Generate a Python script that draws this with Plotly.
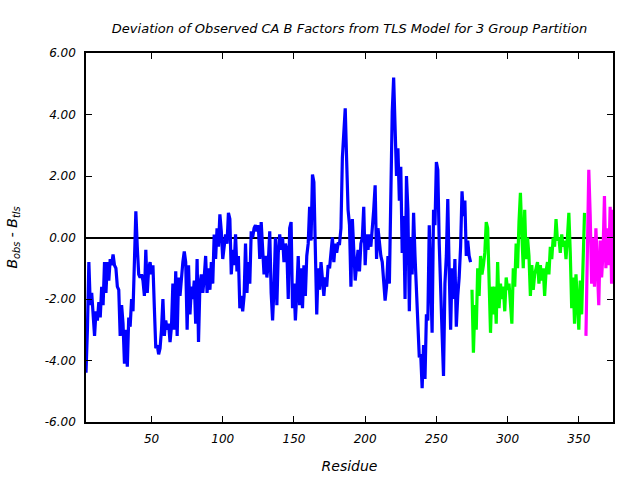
import plotly.graph_objects as go

blue_start = 4
blue_vals = [
    -4.4, -3.0, -0.8, -2.2, -1.8, -2.4, -3.2, -2.4, -2.7, -2.1,
    -2.6, -1.6, -2.2, -0.8, -1.8, -0.8, -1.4, -0.7, -0.9, -0.55,
    -0.9, -1.0, -1.6, -1.7, -3.2, -2.2, -2.8, -4.1, -3.0, -4.2,
    -2.6, -2.9, -2.0, -2.4, -0.4, 0.85, -0.3, -1.2, -1.3, -1.2,
    -1.4, -1.9, -0.4, -1.8, -1.0, -0.8, -1.2, -0.9, -2.3, -3.6,
    -3.5, -3.8, -3.6, -3.0, -2.0, -3.2, -2.7, -3.0, -2.8, -3.4,
    -2.9, -1.5, -3.0, -1.1, -3.2, -1.3, -1.9, -1.2, -0.8, -0.45,
    -0.8, -3.0, -0.9, -2.5, -1.6, -2.0, -1.4, -2.8, -0.7, -3.4,
    -1.5, -1.2, -1.8, -1.3, -0.6, -1.8, -1.0, -1.7, -0.8, -1.5,
    0.1, -0.7, 0.3, -0.3, 0.75, 0.2, -0.7, -0.3, 0.1, -0.2,
    0.8, 0.6, -1.2, -0.4, -0.9, 0.1, -1.1, -0.6, -2.3, -1.9,
    -2.4, -1.9, -0.2, -1.8, -0.8, -1.5, 0.2, 0.0, 0.3, 0.4,
    0.2, 0.4, -0.7, 0.5, -0.3, -1.2, -0.6, -1.3, -0.8, 0.2,
    -1.8, -2.7, -1.6, 0.0, -2.2, -0.5, 0.1, -0.4, 0.0, -0.8,
    -0.2, -0.4, -2.0, 0.3, 0.5, -2.3, -1.5, -2.7, -1.8, -0.6,
    -2.2, -1.0, -2.3, -0.9, -1.9, -0.6, -0.2, 1.0, -0.1, 2.05,
    1.8, -0.4, -2.5, -1.0, -1.7, -0.8, -1.4, -1.9, -1.3, -1.6,
    -0.9, -1.0, -0.5, 0.0, -0.8, -0.2, -0.5, -0.2, -0.2, 0.3,
    2.6, 3.6, 4.2, 2.5, 0.9, 0.4, -1.6, 0.6, -0.4, -1.4,
    -0.9, -0.4, -1.1, -0.2, 0.0, 1.0, -0.9, 0.1, -0.4, 0.1,
    -0.3, 0.2, 0.9, 1.7, -0.7, 0.3, -0.3, -0.6, -0.8, -1.5,
    -2.05, -1.6, -0.6, -1.5, 1.6, 4.1, 5.2, 3.1, 2.0, 2.9,
    1.2, 2.3, -0.5, 0.7, -2.0, 2.0, 0.9, -2.4, 0.0, -1.2,
    0.8, -0.6, -1.6, -2.6, -3.9, -3.8, -4.9, -3.5, -4.6, -2.5,
    -2.7, 0.4, -1.1, -3.1, 0.9, 0.4, 2.45, 2.2, -0.2, -2.0,
    -3.1, -4.5, -1.5, -0.6, 1.25, -1.1, -3.0, -1.0, -2.0, -0.7,
    -2.9, -1.9, -1.3, -0.3, 1.5, 0.7, 1.2, -0.6, -0.1, -0.6,
    -0.8,
]

green_start = 275
green_vals = [
    -1.7, -3.75, -2.2, -3.0, -1.0, -1.9, -0.6, -1.2, -0.9, -0.5,
    0.5, 0.3, -1.4, -3.1, -1.6, -2.5, -1.6, -2.8, -0.8, -2.3,
    -1.5, -2.0, -1.6, -2.4, -1.3, -1.7, -1.5, -2.2, -2.8, -1.0,
    -1.6, -0.2, -1.0, 0.5, 1.45, 0.1, -1.0, 0.9, -0.7, 0.0,
    -0.6, -1.9, -0.9, -1.7, -1.2, -1.0, -0.8, -1.5, -0.9, -1.4,
    -1.0, -1.9, -1.1, -0.8, -1.2, -0.3, -0.7, 0.0, -0.3, 0.6,
    -0.1, 0.0, -0.5, 0.1, -0.3, -0.1, -0.7, 0.0, 0.8, -0.5,
    -2.3, -1.3, -2.8, -1.2, -2.4, -3.0, -1.4, -2.5, -0.8, 0.8,
]

magenta_start = 355
magenta_vals = [
    -3.2, -0.5, 2.2, 0.7, -1.5, 0.0, -1.6, 0.3, -0.7, -2.2,
    -0.1, -1.3, -0.5, 1.35, -1.0, 0.3, -0.9, 1.0, -1.5, 0.9,
]

y_tick_vals = [6, 4, 2, 0, -2, -4, -6]
y_tick_text = ["6.00", "4.00", "2.00", "0.00", "-2.00", "-4.00", "-6.00"]
x_tick_vals = [50, 100, 150, 200, 250, 300, 350]

title_text = "Deviation of Observed CA B Factors from TLS Model for 3 Group Partition"

def res(start, vals):
    return list(range(start, start + len(vals)))

fig = go.Figure()
for start, vals, col in [
    (blue_start, blue_vals, "#0000ff"),
    (green_start, green_vals, "#00ff00"),
    (magenta_start, magenta_vals, "#ff00ff"),
]:
    fig.add_trace(go.Scatter(x=res(start, vals), y=vals, mode="lines",
                             line=dict(color=col, width=3.2), showlegend=False))

font_family = "DejaVu Sans"
fig.update_layout(
    width=640, height=480,
    margin=dict(l=86, r=27, t=53, b=58),
    paper_bgcolor="white", plot_bgcolor="white",
    font=dict(family=font_family, size=12, color="black"),
    title=dict(text="<i>" + title_text + "</i>", x=349.5 / 640, xanchor="center",
               y=1 - 28 / 480, yanchor="middle", font=dict(size=13)),
    showlegend=False,
)
fig.update_xaxes(
    range=[4, 374], tickvals=x_tick_vals,
    ticktext=["<i>%d</i>" % v for v in x_tick_vals],
    ticks="inside", ticklen=6, tickcolor="black", tickwidth=1,
    ticklabelstandoff=5, automargin=False,
    showline=True, linecolor="black", linewidth=1.5, mirror="ticks",
    showgrid=False, zeroline=False,
    title=dict(text="<i>Residue</i>", standoff=16),
)
fig.update_yaxes(
    range=[-6, 6], tickvals=y_tick_vals,
    ticktext=["<i>%s</i>" % t for t in y_tick_text],
    ticks="inside", ticklen=6, tickcolor="black", tickwidth=1,
    ticklabelstandoff=6, automargin=False,
    showline=True, linecolor="black", linewidth=1.5, mirror="ticks",
    showgrid=False, zeroline=True, zerolinecolor="black", zerolinewidth=1.5,
    title=dict(text="<i>B<sub>obs</sub> - B<sub>tls</sub></i>", standoff=24),
)

fig.write_html("out.html")
